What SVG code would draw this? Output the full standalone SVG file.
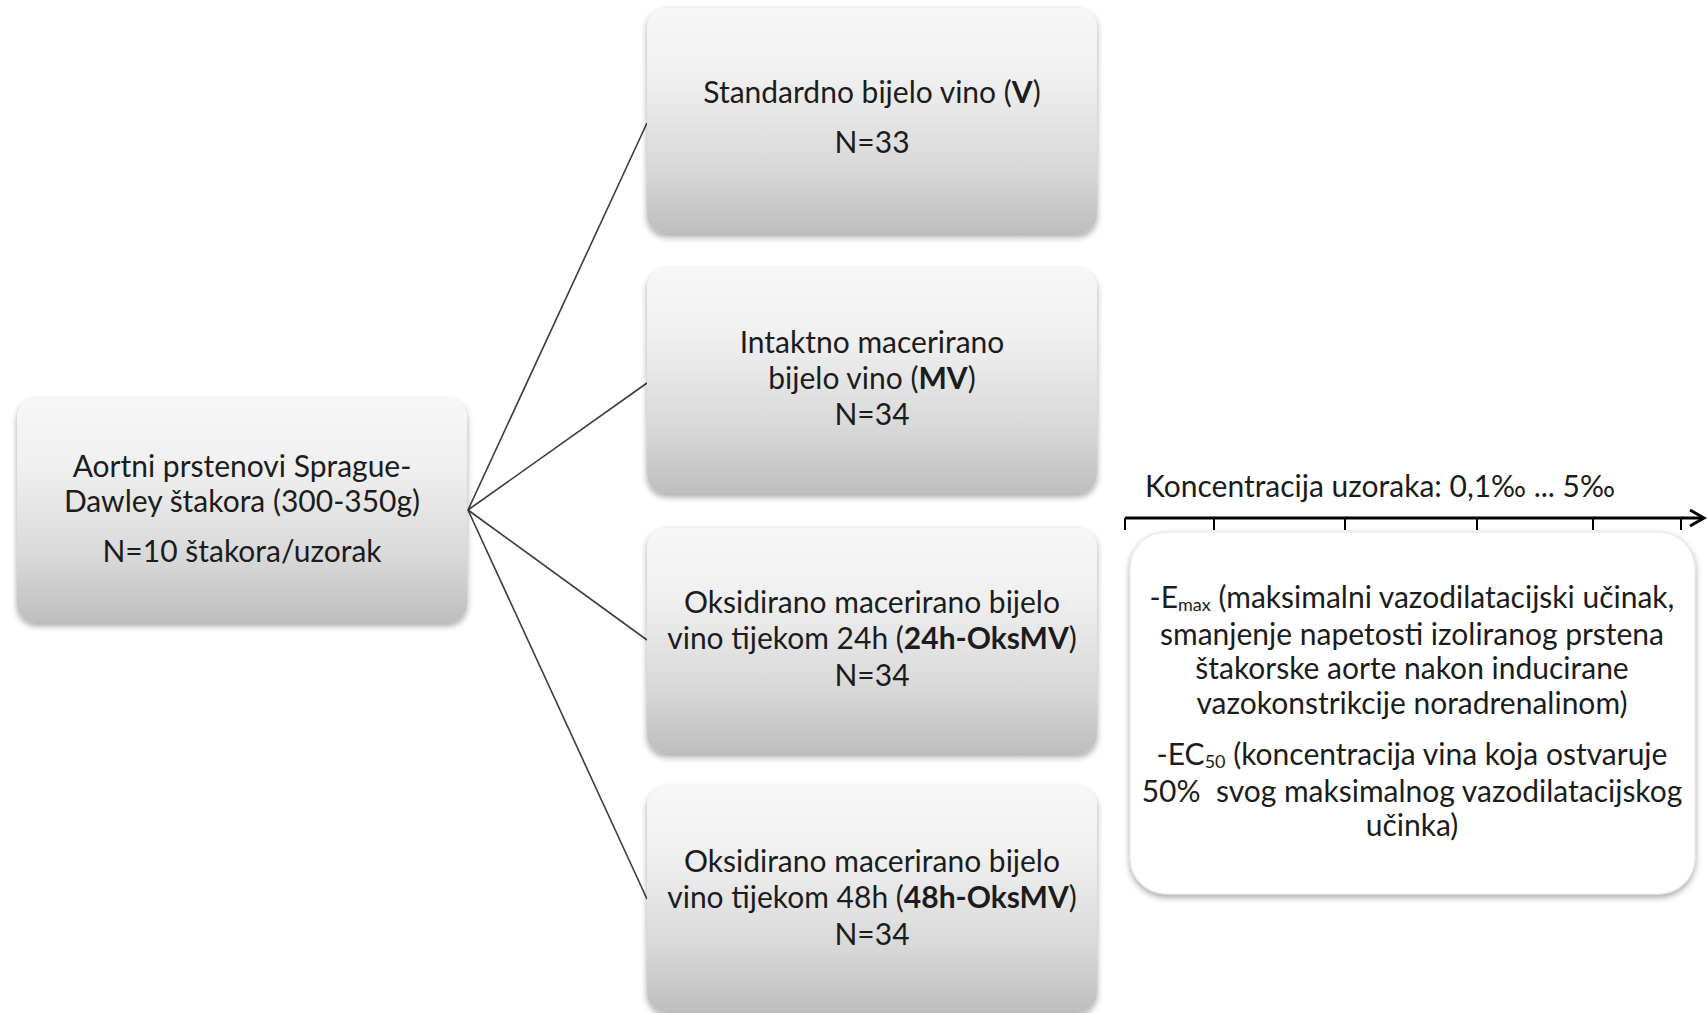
<svg xmlns="http://www.w3.org/2000/svg" width="1707" height="1013" viewBox="0 0 1707 1013">
<style>
.t{font-family:Lato,"Liberation Sans",sans-serif;font-size:30px;fill:#1c1c1c;text-anchor:middle}
.b{font-weight:bold}
.sub{font-size:18px}
.box{fill:url(#g);filter:url(#sh)}
.wbox{fill:#ffffff;stroke:#e4e4e4;stroke-width:1;filter:url(#sh)}
.con{stroke:#3c3c3c;stroke-width:1.6;fill:none}
.ax{stroke:#000;stroke-width:3;fill:none}
.tk{stroke:#000;stroke-width:2}
</style>
<defs>
<linearGradient id="g" x1="0" y1="0" x2="0" y2="1">
<stop offset="0" stop-color="#f7f7f7"/>
<stop offset="0.3" stop-color="#f0f0f0"/>
<stop offset="0.7" stop-color="#d9d9d9"/>
<stop offset="1" stop-color="#bebebe"/>
</linearGradient>
<filter id="sh" x="-5%" y="-5%" width="110%" height="115%">
<feDropShadow dx="0" dy="3" stdDeviation="3" flood-color="#000" flood-opacity="0.35"/>
</filter>
</defs>
<rect width="1707" height="1013" fill="#fff"/>

<g id="connectors">
<line class="con" x1="468" y1="510" x2="647" y2="123"/>
<line class="con" x1="468" y1="510" x2="647" y2="383"/>
<line class="con" x1="468" y1="510" x2="647" y2="640"/>
<line class="con" x1="468" y1="510" x2="647" y2="899"/>
</g>

<g id="node-source">
<rect class="box" x="17" y="398" width="450" height="225" rx="20"/>
<text class="t" x="242" y="477">Aortni prstenovi Sprague-</text>
<text class="t" x="242" y="512">Dawley štakora (300-350g)</text>
<text class="t" x="242" y="562">N=10 štakora/uzorak</text>
</g>

<g id="node-v">
<rect class="box" x="647" y="8" width="450" height="226" rx="20"/>
<text class="t" x="872" y="103">Standardno bijelo vino (<tspan class="b">V</tspan>)</text>
<text class="t" x="872" y="153">N=33</text>
</g>

<g id="node-mv">
<rect class="box" x="647" y="268" width="450" height="226" rx="20"/>
<text class="t" x="872" y="353">Intaktno macerirano</text>
<text class="t" x="872" y="389">bijelo vino (<tspan class="b">MV</tspan>)</text>
<text class="t" x="872" y="425">N=34</text>
</g>

<g id="node-24h">
<rect class="box" x="647" y="528" width="450" height="226" rx="20"/>
<text class="t" x="872" y="613">Oksidirano macerirano bijelo</text>
<text class="t" x="872" y="649">vino tijekom 24h (<tspan class="b">24h-OksMV</tspan>)</text>
<text class="t" x="872" y="686">N=34</text>
</g>

<g id="node-48h">
<rect class="box" x="647" y="786" width="450" height="226" rx="20"/>
<text class="t" x="872" y="872">Oksidirano macerirano bijelo</text>
<text class="t" x="872" y="908">vino tijekom 48h (<tspan class="b">48h-OksMV</tspan>)</text>
<text class="t" x="872" y="945">N=34</text>
</g>

<g id="axis">
<text class="t" x="1145" y="497" style="text-anchor:start">Koncentracija uzoraka: 0,1‰ ... 5‰</text>
<line class="ax" x1="1125" y1="518" x2="1703" y2="518"/>
<polyline class="ax" points="1690,510 1704,518 1690,526"/>
<line class="tk" x1="1125" y1="518" x2="1125" y2="530"/>
<line class="tk" x1="1214" y1="518" x2="1214" y2="530"/>
<line class="tk" x1="1345" y1="518" x2="1345" y2="530"/>
<line class="tk" x1="1477" y1="518" x2="1477" y2="530"/>
<line class="tk" x1="1593" y1="518" x2="1593" y2="530"/>
<line class="tk" x1="1681" y1="518" x2="1681" y2="530"/>
</g>

<g id="node-params">
<rect class="wbox" x="1130" y="532" width="565" height="362" rx="36"/>
<text class="t" x="1412" y="608">-E<tspan class="sub" dy="3">max</tspan><tspan dy="-3"> (maksimalni vazodilatacijski učinak,</tspan></text>
<text class="t" x="1412" y="645">smanjenje napetosti izoliranog prstena</text>
<text class="t" x="1412" y="679">štakorske aorte nakon inducirane</text>
<text class="t" x="1412" y="714">vazokonstrikcije noradrenalinom)</text>
<text class="t" x="1412" y="765">-EC<tspan class="sub" dy="3">50</tspan><tspan dy="-3"> (koncentracija vina koja ostvaruje</tspan></text>
<text class="t" x="1412" y="802" xml:space="preserve">50%  svog maksimalnog vazodilatacijskog</text>
<text class="t" x="1412" y="836">učinka)</text>
</g>
</svg>
